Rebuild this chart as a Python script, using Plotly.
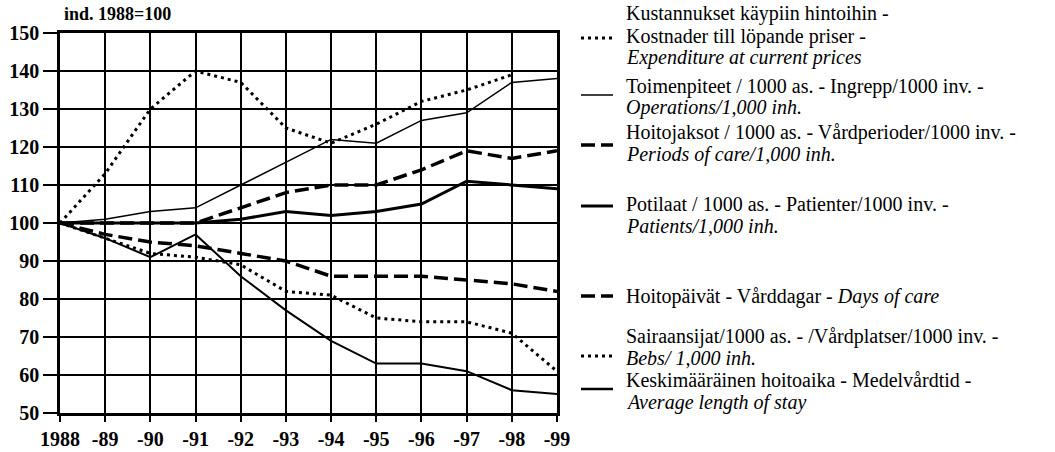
import plotly.graph_objects as go

years = ["1988", "-89", "-90", "-91", "-92", "-93", "-94", "-95", "-96", "-97", "-98", "-99"]
expenditure = [100, 113, 130, 140, 137, 125, 121, 126, 132, 135, 139, None]
operations = [100, 101, 103, 104, 110, 116, 122, 121, 127, 129, 137, 138]
periods_of_care = [100, 100, 100, 100, 104, 108, 110, 110, 114, 119, 117, 119]
patients = [100, 100, 100, 100, 101, 103, 102, 103, 105, 111, 110, 109]
days_of_care = [100, 97, 95, 94, 92, 90, 86, 86, 86, 85, 84, 82]
beds = [100, 96, 92, 91, 89, 82, 81, 75, 74, 74, 71, 61]
avg_stay = [100, 96, 91, 97, 86, 77, 69, 63, 63, 61, 56, 55]

y_ticks = [50, 60, 70, 80, 90, 100, 110, 120, 130, 140, 150]

W, H = 1055, 452
L, R, T, B = 60, 557, 33, 413

FONT = "Liberation Serif"

DOT = dict(dash="3px,4px", width=3)
DASH = dict(dash="14px,6px", width=3.5)

series = [
    ("Expenditure", expenditure, DOT),
    ("Operations", operations, dict(dash="solid", width=1.5)),
    ("Periods of care", periods_of_care, DASH),
    ("Patients", patients, dict(dash="solid", width=3)),
    ("Days of care", days_of_care, DASH),
    ("Beds", beds, DOT),
    ("Average length of stay", avg_stay, dict(dash="solid", width=2)),
]

xs = list(range(len(years)))

fig = go.Figure()
for name, vals, st in series:
    fig.add_trace(go.Scatter(
        x=xs, y=vals, mode="lines", name=name,
        line=dict(color="black", width=st["width"], dash=st["dash"]),
        connectgaps=False, showlegend=False, hoverinfo="skip",
    ))


def px(xp):
    return (xp - L) / (R - L)


def py(yp):
    return (B - yp) / (B - T)


legend_blocks = [
    (["Kustannukset käypiin hintoihin -", "Kostnader till löpande priser -",
      "<i>Expenditure at current prices</i>"], 14, 38, DOT),
    (["Toimenpiteet / 1000 as. - Ingrepp/1000 inv. -", "<i>Operations/1,000 inh.</i>"], 86, 95,
     dict(dash="solid", width=1.5)),
    (["Hoitojaksot / 1000 as. - Vårdperioder/1000 inv. -", "<i>Periods of care/1,000 inh.</i>"], 132, 145, DASH),
    (["Potilaat / 1000 as. - Patienter/1000 inv. -", "<i>Patients/1,000 inh.</i>"], 204, 206,
     dict(dash="solid", width=3)),
    (["Hoitopäivät - Vårddagar - <i>Days of care</i>"], 296, 296, DASH),
    (["Sairaansijat/1000 as. - /Vårdplatser/1000 inv. -", "<i>Bebs/ 1,000 inh.</i>"], 336, 356, DOT),
    (["Keskimääräinen hoitoaika - Medelvårdtid -", "<i>Average length of stay</i>"], 380, 389,
     dict(dash="solid", width=2.5)),
]

LINE_H = 22
for lines, y0, ys, st in legend_blocks:
    for i, ln in enumerate(lines):
        fig.add_annotation(
            x=px(624), y=py(y0 + i * LINE_H), xref="paper", yref="paper",
            text=ln, showarrow=False, xanchor="left", yanchor="middle",
            font=dict(family=FONT, size=20, color="black"),
        )
    fig.add_shape(
        type="line", xref="paper", yref="paper",
        x0=px(581), x1=px(613), y0=py(ys), y1=py(ys),
        line=dict(color="black", width=st["width"], dash=st["dash"]),
    )

fig.add_annotation(
    x=px(62), y=py(14), xref="paper", yref="paper", text="<b>ind. 1988=100</b>",
    showarrow=False, xanchor="left", yanchor="middle",
    font=dict(family=FONT, size=18, color="black"),
)

fig.update_xaxes(
    range=[0, len(years) - 1], tickvals=xs, ticktext=years,
    showgrid=True, gridcolor="black", gridwidth=1.5,
    showline=True, linecolor="black", linewidth=2.5, mirror=True,
    ticks="outside", ticklen=6, tickcolor="black", tickwidth=1.5,
    ticklabelstandoff=0, automargin=False,
    tickfont=dict(family=FONT, size=20, color="black", weight="bold"),
    zeroline=False, fixedrange=True,
)
fig.update_yaxes(
    range=[50, 150], tickvals=y_ticks,
    showgrid=True, gridcolor="black", gridwidth=1.5,
    showline=True, linecolor="black", linewidth=2.5, mirror=True,
    ticks="outside", ticklen=14, tickcolor="black", tickwidth=2,
    automargin=False,
    tickfont=dict(family=FONT, size=20, color="black", weight="bold"),
    zeroline=False, fixedrange=True,
)

fig.update_layout(
    width=W, height=H,
    margin=dict(l=L, r=W - R, t=T, b=H - B, pad=0, autoexpand=False),
    paper_bgcolor="white", plot_bgcolor="white",
    showlegend=False,
)

fig.write_html(
    "out.html",
    config={"displayModeBar": False},
    post_script="document.body.style.margin='0px';document.body.style.overflow='hidden';",
)
